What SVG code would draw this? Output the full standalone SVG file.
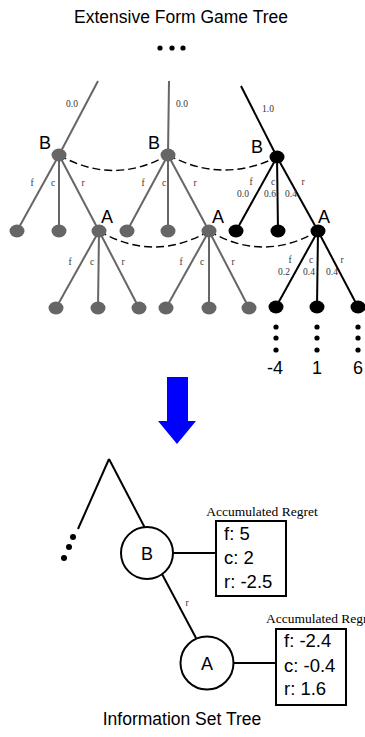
<svg xmlns="http://www.w3.org/2000/svg" width="365" height="737" viewBox="0 0 365 737">
<style>
.t{font-family:"Liberation Sans",Arial,sans-serif;fill:#000}
.s{font-family:"Liberation Serif","Times New Roman",serif;font-size:9.5px;fill:#333;text-anchor:middle}
.g{stroke:#666;stroke-width:2;fill:none}
.k{stroke:#000;stroke-width:2;fill:none}
.gn{fill:#666}
.kn{fill:#000}
.d{stroke:#000;stroke-width:1.4;fill:none;stroke-dasharray:8,4}
.l{stroke:#000;stroke-width:2;fill:none}
.big{font-family:"Liberation Sans",Arial,sans-serif;font-size:18px;text-anchor:middle}
.row{font-family:"Liberation Sans",Arial,sans-serif;font-size:18.5px}
.acc{font-family:"Liberation Serif","Times New Roman",serif;font-size:13.5px}
</style>
<rect width="365" height="737" fill="#fff"/>
<text class="t" x="181" y="23" font-size="17.5" text-anchor="middle">Extensive Form Game Tree</text>
<g id="topdots"><circle cx="160" cy="48" r="2.6"/><circle cx="172" cy="48" r="2.6"/><circle cx="183" cy="48" r="2.6"/></g>

<g id="connectors">
<line class="g" x1="98" y1="81" x2="59" y2="155"/>
<line class="g" x1="169" y1="81" x2="168" y2="155"/>
<line class="k" x1="241" y1="86" x2="277" y2="157"/>
<line class="g" x1="59" y1="155" x2="17" y2="231"/>
<line class="g" x1="59" y1="155" x2="59" y2="231"/>
<line class="g" x1="59" y1="155" x2="99" y2="231"/>
<line class="g" x1="168" y1="155" x2="127" y2="231"/>
<line class="g" x1="168" y1="155" x2="168" y2="231"/>
<line class="g" x1="168" y1="155" x2="209" y2="231"/>
<line class="k" x1="277" y1="157" x2="236" y2="231"/>
<line class="k" x1="277" y1="157" x2="278" y2="231"/>
<line class="k" x1="277" y1="157" x2="318" y2="231"/>
<line class="g" x1="99" y1="231" x2="56" y2="308"/>
<line class="g" x1="99" y1="231" x2="98" y2="308"/>
<line class="g" x1="99" y1="231" x2="139" y2="308"/>
<line class="g" x1="209" y1="231" x2="166" y2="308"/>
<line class="g" x1="209" y1="231" x2="209" y2="308"/>
<line class="g" x1="209" y1="231" x2="249" y2="308"/>
<line class="k" x1="318" y1="231" x2="276" y2="307"/>
<line class="k" x1="318" y1="231" x2="317" y2="307"/>
<line class="k" x1="318" y1="231" x2="358" y2="307"/>
<path class="d" d="M59,155 Q113.5,186 168,155"/>
<path class="d" d="M168,155 Q222.5,184 277,157"/>
<path class="d" d="M99,231 Q154,263 209,231"/>
<path class="d" d="M209,231 Q263.5,263 318,231"/>
<line class="l" x1="109" y1="459" x2="78" y2="529"/>
<line class="l" x1="109" y1="459" x2="145" y2="528"/>
<line class="l" x1="173" y1="553" x2="216" y2="553"/>
<line class="l" x1="162" y1="574" x2="196" y2="638"/>
<line class="l" x1="234" y1="663" x2="276" y2="663"/>
</g>

<g id="edge-labels">
<text class="s" x="72" y="107">0.0</text>
<text class="s" x="182" y="107">0.0</text>
<text class="s" x="268" y="112">1.0</text>
<text class="s" x="32" y="186">f</text><text class="s" x="53" y="186">c</text><text class="s" x="83" y="186">r</text>
<text class="s" x="143" y="186">f</text><text class="s" x="164" y="186">c</text><text class="s" x="195" y="186">r</text>
<text class="s" x="251" y="185">f</text><text class="s" x="273" y="185">c</text><text class="s" x="303" y="185">r</text>
<text class="s" x="243" y="197">0.0</text><text class="s" x="270" y="197">0.6</text><text class="s" x="291" y="197">0.4</text>
<text class="s" x="70" y="265">f</text><text class="s" x="92" y="265">c</text><text class="s" x="123" y="265">r</text>
<text class="s" x="181" y="265">f</text><text class="s" x="202" y="265">c</text><text class="s" x="233" y="265">r</text>
<text class="s" x="290" y="263">f</text><text class="s" x="311" y="263">c</text><text class="s" x="342" y="263">r</text>
<text class="s" x="284" y="275">0.2</text><text class="s" x="309" y="275">0.4</text><text class="s" x="332" y="275">0.4</text>
<text class="s" x="187" y="606" font-size="11">r</text>
</g>

<g id="B1"><ellipse class="gn" cx="59" cy="155" rx="7.5" ry="6.5"/><text class="big" x="45" y="149">B</text></g>
<g id="B2"><ellipse class="gn" cx="168" cy="155" rx="7.5" ry="6.5"/><text class="big" x="154" y="149">B</text></g>
<g id="B3"><ellipse class="kn" cx="277" cy="157" rx="7.5" ry="6.5"/><text class="big" x="257" y="153">B</text></g>
<g id="A1"><ellipse class="gn" cx="99" cy="231" rx="7.5" ry="6.5"/><text class="big" x="107" y="223">A</text></g>
<g id="A2"><ellipse class="gn" cx="209" cy="231" rx="7.5" ry="6.5"/><text class="big" x="218" y="223">A</text></g>
<g id="A3"><ellipse class="kn" cx="318" cy="231" rx="7.5" ry="6.5"/><text class="big" x="324" y="223">A</text></g>
<g id="leaves-B1"><ellipse class="gn" cx="17" cy="231" rx="7.5" ry="6.5"/><ellipse class="gn" cx="59" cy="231" rx="7.5" ry="6.5"/></g>
<g id="leaves-B2"><ellipse class="gn" cx="127" cy="231" rx="7.5" ry="6.5"/><ellipse class="gn" cx="168" cy="231" rx="7.5" ry="6.5"/></g>
<g id="leaves-B3"><ellipse class="kn" cx="236" cy="231" rx="7.5" ry="6.5"/><ellipse class="kn" cx="278" cy="231" rx="7.5" ry="6.5"/></g>
<g id="leaves-A1"><ellipse class="gn" cx="56" cy="308" rx="7.5" ry="6.5"/><ellipse class="gn" cx="98" cy="308" rx="7.5" ry="6.5"/><ellipse class="gn" cx="139" cy="308" rx="7.5" ry="6.5"/></g>
<g id="leaves-A2"><ellipse class="gn" cx="166" cy="308" rx="7.5" ry="6.5"/><ellipse class="gn" cx="209" cy="308" rx="7.5" ry="6.5"/><ellipse class="gn" cx="249" cy="308" rx="7.5" ry="6.5"/></g>
<g id="leaves-A3"><ellipse class="kn" cx="276" cy="307" rx="7.5" ry="6.5"/><ellipse class="kn" cx="317" cy="307" rx="7.5" ry="6.5"/><ellipse class="kn" cx="358" cy="307" rx="7.5" ry="6.5"/></g>
<g id="vdots">
<circle cx="276" cy="327" r="2.6"/><circle cx="276" cy="338" r="2.6"/><circle cx="276" cy="350" r="2.6"/>
<circle cx="317" cy="327" r="2.6"/><circle cx="317" cy="338" r="2.6"/><circle cx="317" cy="350" r="2.6"/>
<circle cx="358" cy="327" r="2.6"/><circle cx="358" cy="338" r="2.6"/><circle cx="358" cy="350" r="2.6"/>
</g>
<g id="payoffs">
<text class="big" x="275" y="374">-4</text><text class="big" x="317" y="374">1</text><text class="big" x="358" y="374">6</text>
</g>

<g id="arrow"><polygon points="167,377 188,377 188,421 196,421 177,444 158,421 167,421" fill="#0000ff"/></g>

<g id="lowdots"><circle cx="73" cy="537" r="3"/><circle cx="69" cy="547" r="3"/><circle cx="64" cy="558" r="3"/></g>
<g id="nodeB"><circle cx="147" cy="553" r="26" fill="#fff" stroke="#000" stroke-width="2"/><text class="big" x="147" y="560">B</text></g>
<g id="boxB">
<text class="acc" x="262" y="516" text-anchor="middle">Accumulated Regret</text>
<rect x="216" y="521" width="70" height="75" fill="#fff" stroke="#000" stroke-width="2"/>
<text class="row" x="224" y="540">f: 5</text>
<text class="row" x="224" y="564">c: 2</text>
<text class="row" x="224" y="588">r: -2.5</text>
</g>
<g id="nodeA"><circle cx="207" cy="663" r="26.5" fill="#fff" stroke="#000" stroke-width="2"/><text class="big" x="207" y="670">A</text></g>
<g id="boxA">
<text class="acc" x="266" y="623">Accumulated Regret</text>
<rect x="276" y="629" width="70" height="76" fill="#fff" stroke="#000" stroke-width="2"/>
<text class="row" x="284" y="647">f: -2.4</text>
<text class="row" x="284" y="672">c: -0.4</text>
<text class="row" x="284" y="695">r: 1.6</text>
</g>
<text class="t" x="182" y="725" font-size="17.5" text-anchor="middle">Information Set Tree</text>
</svg>
